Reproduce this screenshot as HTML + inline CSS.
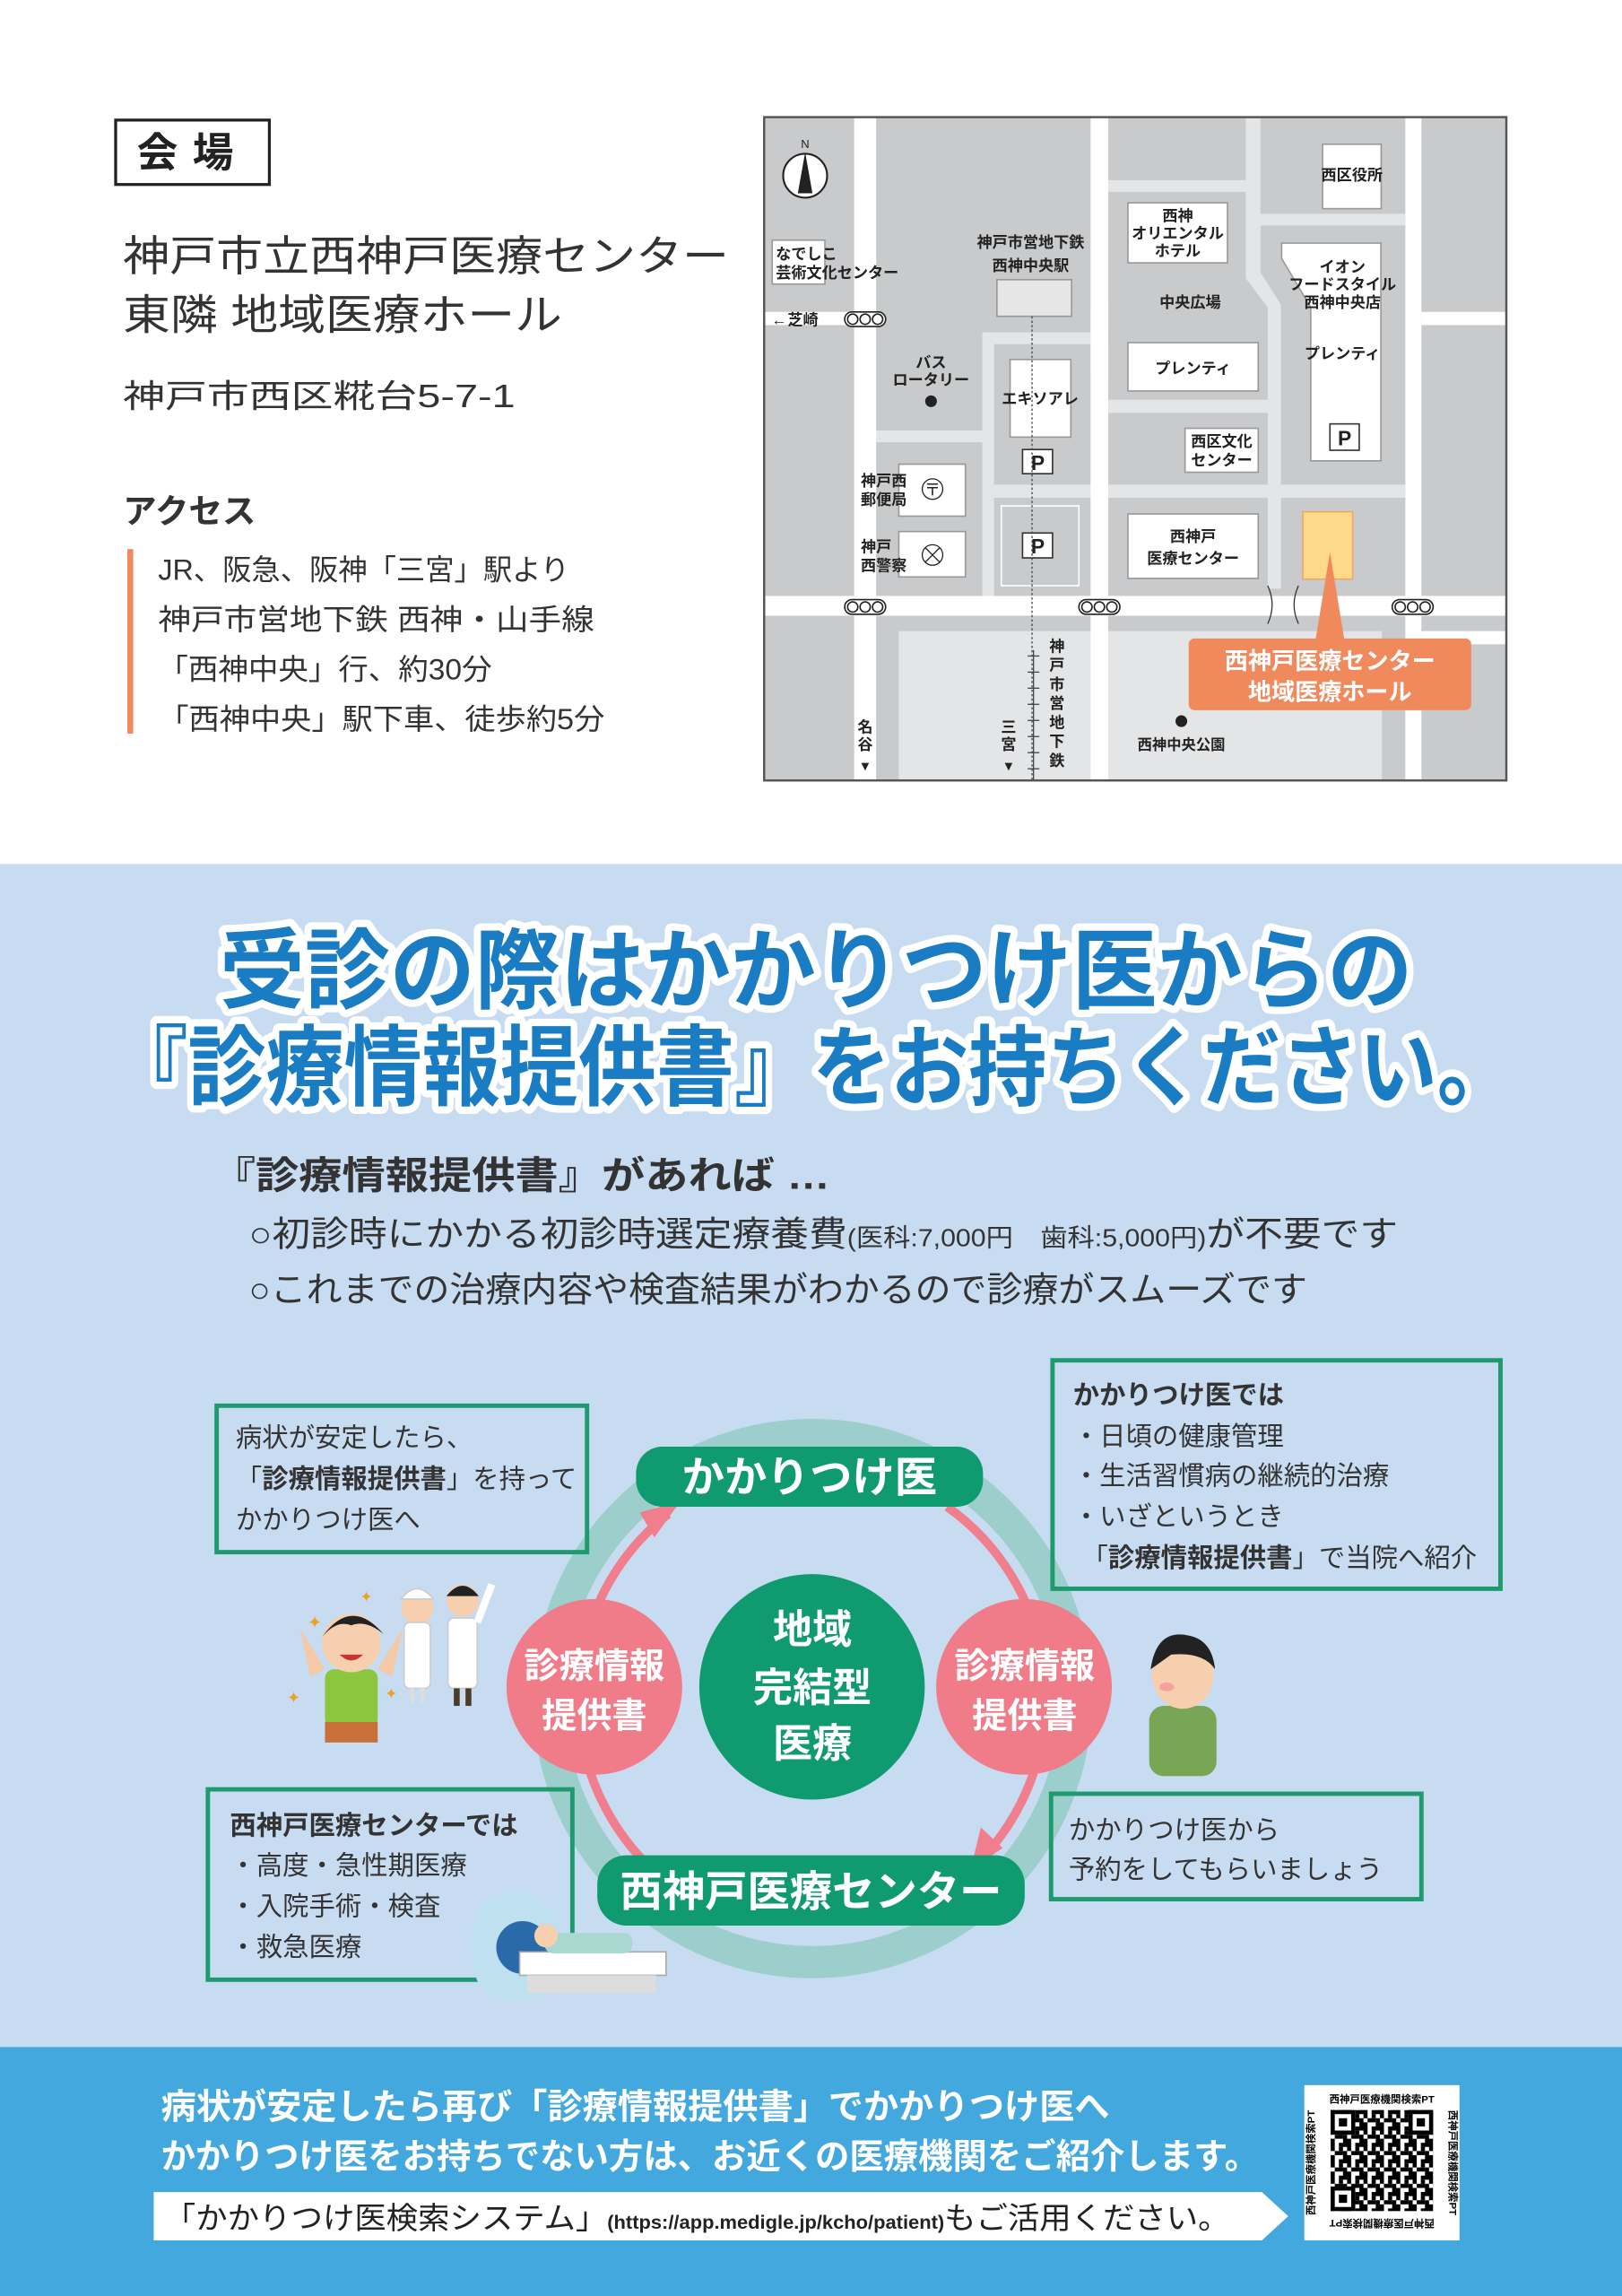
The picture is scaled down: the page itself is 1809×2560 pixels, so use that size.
<!DOCTYPE html>
<html><head><meta charset="utf-8"><style>
html,body{margin:0;padding:0;background:#fff}
svg{display:block}
text{font-family:"Liberation Sans","Noto Sans CJK JP",sans-serif}
</style></head><body>
<svg width="1809" height="2560" viewBox="0 0 1108 1568" xmlns="http://www.w3.org/2000/svg">
<defs>
<pattern id="qr" x="909" y="1441" width="11.2" height="11.2" patternUnits="userSpaceOnUse">
<rect width="11.2" height="11.2" fill="#fff"/>
<rect x="0" y="0" width="2.8" height="5.6" fill="#000"/><rect x="5.6" y="0" width="5.6" height="2.8" fill="#000"/>
<rect x="2.8" y="5.6" width="5.6" height="2.8" fill="#000"/><rect x="8.4" y="5.6" width="2.8" height="5.6" fill="#000"/>
<rect x="0" y="8.4" width="2.8" height="2.8" fill="#000"/><rect x="5.6" y="2.8" width="2.8" height="2.8" fill="#000"/>
</pattern>
</defs>
<rect width="1108" height="1568" fill="#fff"/>

<!-- Top-left info -->
<rect x="79" y="82" width="105" height="44" fill="#fff" stroke="#222" stroke-width="2"/>
<text x="131.5" y="114" font-size="28" font-weight="bold" text-anchor="middle" fill="#222" letter-spacing="10">会場</text>
<text x="84" y="185" font-size="29" fill="#333" textLength="414" lengthAdjust="spacingAndGlyphs">神戸市立西神戸医療センター</text>
<text x="84" y="225" font-size="29" fill="#333" textLength="300" lengthAdjust="spacingAndGlyphs">東隣 地域医療ホール</text>
<text x="84" y="278" font-size="22" fill="#333" textLength="268" lengthAdjust="spacingAndGlyphs">神戸市西区糀台5-7-1</text>
<text x="84" y="357" font-size="23" font-weight="bold" fill="#333">アクセス</text>
<rect x="87" y="375" width="4" height="126" fill="#f08a5d"/>
<g font-size="20" fill="#333">
<text x="108" y="396" textLength="281" lengthAdjust="spacingAndGlyphs">JR、阪急、阪神「三宮」駅より</text>
<text x="108" y="430" textLength="298" lengthAdjust="spacingAndGlyphs">神戸市営地下鉄 西神・山手線</text>
<text x="108" y="464" textLength="228" lengthAdjust="spacingAndGlyphs">「西神中央」行、約30分</text>
<text x="108" y="498" textLength="305" lengthAdjust="spacingAndGlyphs">「西神中央」駅下車、徒歩約5分</text>
</g>

<!-- Map -->
<g>
<rect x="522" y="80" width="507" height="453" fill="#c9cacc"/>
<g fill="#e4e5e6">
<rect x="757" y="123" width="96" height="8"/>
<path d="M851 80 H861 V186 L875 208 V402 H866 V210 L851 190 Z"/>
<rect x="861" y="146" width="99" height="8"/>
<rect x="671" y="227" width="86" height="8"/>
<rect x="671" y="227" width="8" height="180"/>
<rect x="745" y="210" width="12" height="48"/>
<rect x="598" y="294" width="73" height="8"/>
<rect x="679" y="331" width="281" height="9"/>
<rect x="757" y="273" width="118" height="9"/>
<rect x="614" y="431" width="330" height="102"/>
</g>
<g fill="#fff">
<rect x="583.5" y="80" width="15" height="453"/>
<rect x="745" y="80" width="12" height="453"/>
<rect x="960" y="80" width="11" height="453"/>
<rect x="522" y="407" width="507" height="13.5"/>
<rect x="522" y="213" width="76" height="9"/>
<rect x="971" y="213" width="58" height="9"/>
<rect x="971" y="431" width="58" height="9"/>
</g>
<g fill="#fff" stroke="#999" stroke-width="1">
<rect x="527.5" y="164" width="36" height="30"/>
<rect x="681" y="191" width="51" height="25" fill="#e6e6e6"/>
<rect x="690" y="245.5" width="41.5" height="53"/>
<rect x="770.5" y="138.5" width="68" height="41"/>
<rect x="770.5" y="234" width="89" height="33"/>
<rect x="809.5" y="292.5" width="50" height="30"/>
<rect x="770.5" y="351" width="89" height="44"/>
<rect x="903.5" y="98.5" width="40" height="44"/>
<path d="M875.5 166 H943.3 V314.7 H895.4 V210 L875.5 176.5 Z"/>
<rect x="614" y="317" width="45.5" height="35.5"/>
<rect x="614" y="363" width="45.5" height="31"/>
</g>
<rect x="684" y="345.5" width="53" height="54.5" fill="none" stroke="#fff" stroke-width="1"/>
<g fill="#fff" stroke="#333" stroke-width="1">
<rect x="698.5" y="307" width="20.5" height="16.5"/>
<rect x="698.5" y="364" width="20.5" height="17"/>
<rect x="908.5" y="289.5" width="20" height="18"/>
</g>
<g font-size="14" font-weight="bold" fill="#222" text-anchor="middle">
<text x="709" y="321">P</text><text x="709" y="378">P</text><text x="918.5" y="304">P</text>
</g>
<line x1="705" y1="216" x2="705" y2="533" stroke="#444" stroke-width="0.8" stroke-dasharray="1.5,1.5"/>
<g stroke="#444" stroke-width="0.8">
<line x1="706" y1="444" x2="706" y2="533"/>
<line x1="702" y1="448" x2="710" y2="448"/><line x1="702" y1="459" x2="710" y2="459"/><line x1="702" y1="470" x2="710" y2="470"/><line x1="702" y1="481" x2="710" y2="481"/><line x1="702" y1="492" x2="710" y2="492"/><line x1="702" y1="503" x2="710" y2="503"/><line x1="702" y1="514" x2="710" y2="514"/><line x1="702" y1="525" x2="710" y2="525"/>
</g>
<rect x="890" y="349.5" width="34" height="46" fill="#ffd98a" stroke="#f0a860" stroke-width="1"/>
<path d="M908.5 377 L898.5 438 L918.5 438 Z" fill="#f08a5d"/>
<rect x="812" y="436" width="193" height="49" rx="4" fill="#f08a5d"/>
<g font-size="16" font-weight="bold" fill="#fff" text-anchor="middle">
<text x="908.5" y="457">西神戸医療センター</text>
<text x="908.5" y="478">地域医療ホール</text>
</g>
<circle cx="550" cy="120" r="15" fill="#fff" stroke="#222" stroke-width="1.3"/>
<path d="M550 104 L555 132 L545 132 Z" fill="#222"/>
<text x="550" y="101" font-size="8" text-anchor="middle" fill="#222">N</text>
<g fill="#fff" stroke="#222" stroke-width="1">
<rect x="577" y="213" width="28" height="10" rx="5"/>
<rect x="577" y="409.5" width="28" height="10" rx="5"/>
<rect x="737" y="409.5" width="28" height="10" rx="5"/>
<rect x="951" y="409.5" width="28" height="10" rx="5"/>
<circle cx="582.5" cy="218" r="3.5"/><circle cx="591" cy="218" r="3.5"/><circle cx="599.5" cy="218" r="3.5"/>
<circle cx="582.5" cy="414.5" r="3.5"/><circle cx="591" cy="414.5" r="3.5"/><circle cx="599.5" cy="414.5" r="3.5"/>
<circle cx="742.5" cy="414.5" r="3.5"/><circle cx="751" cy="414.5" r="3.5"/><circle cx="759.5" cy="414.5" r="3.5"/>
<circle cx="956.5" cy="414.5" r="3.5"/><circle cx="965" cy="414.5" r="3.5"/><circle cx="973.5" cy="414.5" r="3.5"/>
</g>
<path d="M866 400 Q872 413 866 426 M887 400 Q881 413 887 426" stroke="#333" stroke-width="0.8" fill="none"/>
<circle cx="637" cy="334" r="7" fill="#fff" stroke="#222" stroke-width="0.8"/>
<text x="637" y="338.5" font-size="11" text-anchor="middle" fill="#222">〒</text>
<circle cx="637" cy="379" r="7" fill="#fff" stroke="#222" stroke-width="0.8"/>
<path d="M632 374 L642 384 M642 374 L632 384" stroke="#222" stroke-width="0.8"/>
<circle cx="636" cy="274" r="4" fill="#222"/>
<circle cx="807" cy="492.5" r="4" fill="#222"/>
<g font-size="10.5" font-weight="bold" fill="#222">
<text x="530" y="177">なでしこ</text>
<text x="530" y="190">芸術文化センター</text>
<text x="538" y="222">芝崎</text>
<text x="527" y="222">←</text>
<text x="704" y="169" text-anchor="middle">神戸市営地下鉄</text>
<text x="704" y="185" text-anchor="middle">西神中央駅</text>
<text x="636" y="251" text-anchor="middle">バス</text>
<text x="636" y="263" text-anchor="middle">ロータリー</text>
<text x="710.5" y="276" text-anchor="middle">エキソアレ</text>
<text x="804.5" y="151" text-anchor="middle">西神</text>
<text x="804.5" y="163" text-anchor="middle">オリエンタル</text>
<text x="804.5" y="175" text-anchor="middle">ホテル</text>
<text x="813" y="210" text-anchor="middle">中央広場</text>
<text x="815" y="255" text-anchor="middle">プレンティ</text>
<text x="834.5" y="305" text-anchor="middle">西区文化</text>
<text x="834.5" y="318" text-anchor="middle">センター</text>
<text x="815" y="370" text-anchor="middle">西神戸</text>
<text x="815" y="385" text-anchor="middle">医療センター</text>
<text x="923.5" y="123" text-anchor="middle">西区役所</text>
<text x="917" y="186" text-anchor="middle">イオン</text>
<text x="917" y="198" text-anchor="middle">フードスタイル</text>
<text x="917" y="210" text-anchor="middle">西神中央店</text>
<text x="917" y="245" text-anchor="middle">プレンティ</text>
<text x="588" y="332">神戸西</text>
<text x="588" y="345">郵便局</text>
<text x="588" y="377">神戸</text>
<text x="588" y="390">西警察</text>
<text x="807" y="512" text-anchor="middle" font-size="10">西神中央公園</text>
<text x="591" y="500" text-anchor="middle">名</text><text x="591" y="512" text-anchor="middle">谷</text><text x="591" y="526" text-anchor="middle" font-size="9">▼</text>
<text x="689" y="500" text-anchor="middle">三</text><text x="689" y="512" text-anchor="middle">宮</text><text x="689" y="526" text-anchor="middle" font-size="9">▼</text>
<text x="722" y="445" text-anchor="middle">神</text><text x="722" y="458" text-anchor="middle">戸</text><text x="722" y="471" text-anchor="middle">市</text><text x="722" y="484" text-anchor="middle">営</text><text x="722" y="497" text-anchor="middle">地</text><text x="722" y="510" text-anchor="middle">下</text><text x="722" y="523" text-anchor="middle">鉄</text>
</g>
<rect x="522" y="80" width="507" height="453" fill="none" stroke="#555" stroke-width="1.5"/>
</g>

<!-- Blue section -->
<rect x="0" y="590" width="1108" height="810" fill="#c8dcf1"/>
<g font-size="60" font-weight="bold" stroke-linejoin="round">
<text x="150" y="684" fill="#fff" stroke="#fff" stroke-width="10" textLength="815" lengthAdjust="spacingAndGlyphs">受診の際はかかりつけ医からの</text>
<text x="150" y="684" fill="#1a7dc4" textLength="815" lengthAdjust="spacingAndGlyphs">受診の際はかかりつけ医からの</text>
<text x="75" y="750" fill="#fff" stroke="#fff" stroke-width="10" textLength="960" lengthAdjust="spacingAndGlyphs">『診療情報提供書』をお持ちください。</text>
<text x="75" y="750" fill="#1a7dc4" textLength="960" lengthAdjust="spacingAndGlyphs">『診療情報提供書』をお持ちください。</text>
</g>
<text x="145" y="812" font-size="26" font-weight="bold" fill="#333" textLength="422" lengthAdjust="spacingAndGlyphs">『診療情報提供書』があれば …</text>
<text x="170" y="851" font-size="24" fill="#333" textLength="785" lengthAdjust="spacingAndGlyphs">○初診時にかかる初診時選定療養費<tspan font-size="17">(医科:7,000円　歯科:5,000円)</tspan>が不要です</text>
<text x="170" y="889" font-size="24" fill="#333" textLength="723" lengthAdjust="spacingAndGlyphs">○これまでの治療内容や検査結果がわかるので診療がスムーズです</text>

<!-- diagram -->
<circle cx="555" cy="1160" r="180" fill="none" stroke="#9ccfcc" stroke-width="22"/>
<g stroke="#f07e8c" stroke-width="6" fill="none">
<path d="M456.5 1286 A160 160 0 0 1 456.4 1034"/>
<path d="M647 1029 A160 160 0 0 1 672 1268"/>
</g>
<path d="M465 1025 L447 1050 L437 1033 Z" fill="#f07e8c"/>
<path d="M663 1277 L670 1248 L685 1262 Z" fill="#f07e8c"/>
<circle cx="406" cy="1152" r="60" fill="#f07c8a"/>
<circle cx="699.5" cy="1152" r="60" fill="#f07c8a"/>
<circle cx="554.7" cy="1152" r="77" fill="#0f9a70"/>
<rect x="434.5" y="988" width="237" height="41" rx="18" fill="#0f9a70"/>
<rect x="408" y="1267" width="292" height="48" rx="20" fill="#0f9a70"/>
<g font-weight="bold" fill="#fff" text-anchor="middle">
<text x="553" y="1019" font-size="29">かかりつけ医</text>
<text x="554" y="1302" font-size="29">西神戸医療センター</text>
<text x="406" y="1146" font-size="24">診療情報</text>
<text x="406" y="1180" font-size="24">提供書</text>
<text x="700" y="1146" font-size="24">診療情報</text>
<text x="700" y="1180" font-size="24">提供書</text>
<text x="555" y="1122" font-size="27">地域</text>
<text x="555" y="1162" font-size="27">完結型</text>
<text x="555" y="1200" font-size="27">医療</text>
</g>
<g fill="none" stroke="#1e9a6e" stroke-width="3">
<rect x="148" y="960" width="253" height="100"/>
<rect x="719" y="929" width="306" height="156"/>
<rect x="142" y="1222" width="249" height="130"/>
<rect x="718" y="1225" width="253" height="72"/>
</g>
<g font-size="18" fill="#333">
<text x="161" y="988">病状が安定したら、</text>
<text x="161" y="1016">「<tspan font-weight="bold">診療情報提供書</tspan>」を持って</text>
<text x="161" y="1044">かかりつけ医へ</text>
<text x="733" y="959" font-weight="bold">かかりつけ医では</text>
<text x="733" y="987">・日頃の健康管理</text>
<text x="733" y="1014">・生活習慣病の継続的治療</text>
<text x="733" y="1042">・いざというとき</text>
<text x="739" y="1070">「<tspan font-weight="bold">診療情報提供書</tspan>」で当院へ紹介</text>
<text x="157" y="1253" font-weight="bold">西神戸医療センターでは</text>
<text x="157" y="1280">・高度・急性期医療</text>
<text x="157" y="1308">・入院手術・検査</text>
<text x="157" y="1336">・救急医療</text>
<text x="730" y="1256">かかりつけ医から</text>
<text x="730" y="1283">予約をしてもらいましょう</text>
</g>

<!-- illustrations -->
<g>
<path d="M205 1112 L222 1140 L212 1145 Z" fill="#f4c9a5"/>
<path d="M275 1112 L258 1140 L268 1145 Z" fill="#f4c9a5"/>
<rect x="222" y="1140" width="36" height="40" rx="6" fill="#8cc63f"/>
<rect x="222" y="1176" width="36" height="14" fill="#c8703a"/>
<circle cx="240" cy="1122" r="20" fill="#f6cfae"/>
<path d="M220 1118 Q240 1090 262 1116 Q250 1106 240 1110 Q230 1106 220 1118Z" fill="#222"/>
<path d="M232 1130 Q240 1138 248 1130 Z" fill="#c33"/>
<circle cx="285" cy="1098" r="11" fill="#f6cfae"/>
<path d="M274 1092 Q285 1078 296 1092 Z" fill="#fff" stroke="#ccc"/>
<rect x="276" y="1108" width="18" height="45" rx="4" fill="#fff" stroke="#ccc"/>
<rect x="280" y="1153" width="3" height="10" fill="#ddd"/><rect x="287" y="1153" width="3" height="10" fill="#ddd"/>
<circle cx="316" cy="1093" r="11" fill="#f6cfae"/>
<path d="M305 1090 Q316 1076 327 1090 Z" fill="#222"/>
<rect x="306" y="1105" width="20" height="48" rx="4" fill="#fff" stroke="#ccc"/>
<rect x="310" y="1153" width="4" height="12" fill="#4a3b2a"/><rect x="318" y="1153" width="4" height="12" fill="#4a3b2a"/>
<line x1="326" y1="1108" x2="336" y2="1082" stroke="#fff" stroke-width="5"/>
<text x="210" y="1112" font-size="12" fill="#f0a020">✦</text>
<text x="246" y="1094" font-size="10" fill="#f0a020">✦</text>
<text x="196" y="1163" font-size="11" fill="#f0a020">✦</text>
<text x="263" y="1160" font-size="10" fill="#f0a020">✦</text>
<rect x="785" y="1165" width="46" height="48" rx="10" fill="#79a655"/>
<ellipse cx="808" cy="1143" rx="21" ry="24" fill="#f6cfae"/>
<path d="M786 1140 Q790 1112 812 1117 Q828 1120 830 1140 Q822 1128 800 1130 Z" fill="#222"/>
<ellipse cx="797" cy="1152" rx="5" ry="3" fill="#f7a0a0"/>
<path d="M322 1330 Q322 1292 352 1292 Q382 1292 385 1330 Q385 1368 352 1368 Q322 1368 322 1330Z" fill="#bfe0ee"/>
<circle cx="357" cy="1330" r="18" fill="#2a6aa8"/>
<rect x="355" y="1333" width="100" height="16" fill="#fff" stroke="#aaa"/>
<rect x="372" y="1320" width="60" height="14" rx="6" fill="#a9d8d0"/>
<circle cx="373" cy="1322" r="8" fill="#f6cfae"/>
<rect x="360" y="1349" width="88" height="12" fill="#ddd"/>
</g>

<!-- bottom band -->
<rect x="0" y="1398" width="1108" height="170" fill="#42a8de"/>
<g font-size="24" font-weight="bold" fill="#fff">
<text x="110" y="1447" textLength="648" lengthAdjust="spacingAndGlyphs">病状が安定したら再び「診療情報提供書」でかかりつけ医へ</text>
<text x="110" y="1481" textLength="750" lengthAdjust="spacingAndGlyphs">かかりつけ医をお持ちでない方は、お近くの医療機関をご紹介します。</text>
</g>
<path d="M105 1497 H862 L880 1513.5 L862 1530 H105 Z" fill="#fff"/>
<text x="112" y="1522" font-size="21" fill="#222" textLength="728" lengthAdjust="spacingAndGlyphs">「かかりつけ医検索システム」<tspan font-size="13" font-weight="bold">(https://app.medigle.jp/kcho/patient)</tspan>もご活用ください。</text>
<rect x="891" y="1424" width="106" height="106" fill="#fff"/>
<rect x="909" y="1441" width="70" height="69" fill="url(#qr)"/>
<g fill="#fff" stroke="#000" stroke-width="2.8">
<rect x="910.4" y="1442.4" width="14" height="14"/>
<rect x="963.6" y="1442.4" width="14" height="14"/>
<rect x="910.4" y="1494.6" width="14" height="14"/>
</g>
<g fill="#000"><rect x="914.6" y="1446.6" width="5.6" height="5.6"/><rect x="967.8" y="1446.6" width="5.6" height="5.6"/><rect x="914.6" y="1498.8" width="5.6" height="5.6"/></g>
<text x="944" y="1436" font-size="7" font-weight="bold" text-anchor="middle" fill="#000">西神戸医療機関検索PT</text>
<text x="944" y="1520" font-size="7" font-weight="bold" text-anchor="middle" fill="#000" transform="rotate(180 944 1518)">西神戸医療機関検索PT</text>
<text x="898" y="1477" font-size="7" font-weight="bold" text-anchor="middle" fill="#000" transform="rotate(-90 898 1477)">西神戸医療機関検索PT</text>
<text x="990" y="1477" font-size="7" font-weight="bold" text-anchor="middle" fill="#000" transform="rotate(90 990 1477)">西神戸医療機関検索PT</text>
</svg>
</body></html>
